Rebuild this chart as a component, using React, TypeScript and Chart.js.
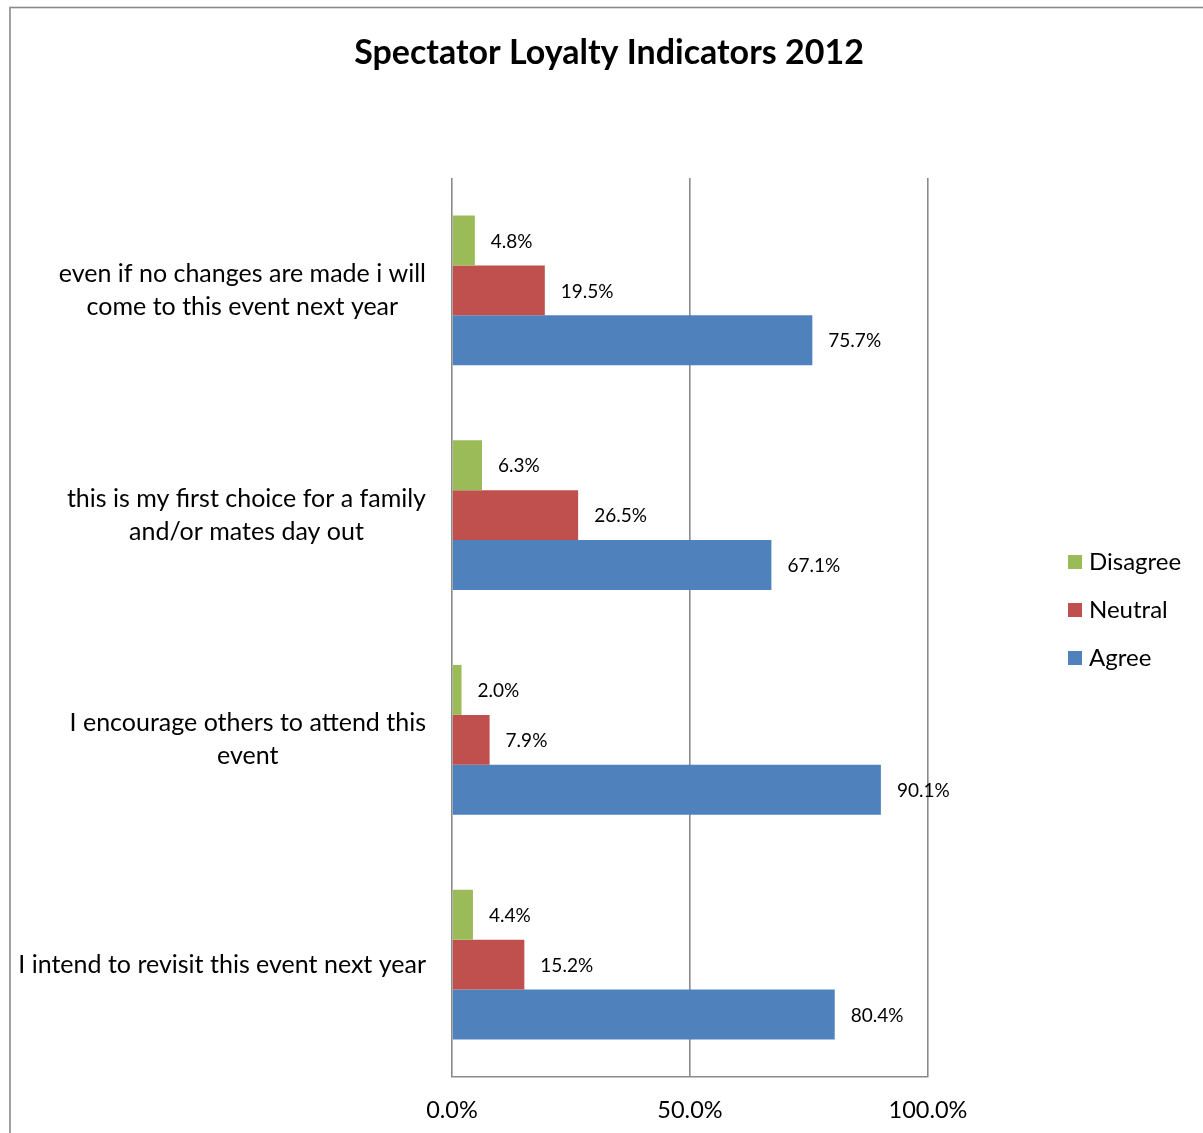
import React, { useEffect, useRef } from 'react';
import { Chart, registerables } from 'chart.js';

Chart.register(...registerables);

const chartTitle = 'Spectator Loyalty Indicators 2012';
const categories: string[][] = [
  ['even if no changes are made i will', 'come to this event next year'],
  ['this is my first choice for a family', 'and/or mates day out'],
  ['I encourage others to attend this', 'event'],
  ['I intend to revisit this event next year'],
];
const seriesNames = ['Disagree', 'Neutral', 'Agree'];
const disagreeValues = [4.8, 6.3, 2.0, 4.4];
const neutralValues = [19.5, 26.5, 7.9, 15.2];
const agreeValues = [75.7, 67.1, 90.1, 80.4];
const seriesColors = ['#9BBB59', '#C0504D', '#4F81BD'];
const xMin = 0;
const xMax = 100;
const xStep = 50;

const FONT = 'Lato, "Open Sans", sans-serif';

const overlayPlugin = {
  id: 'overlay',
  beforeDraw(chart: any) {
    const ctx = chart.ctx;
    ctx.save();
    ctx.fillStyle = '#ffffff';
    ctx.fillRect(0, 0, chart.width, chart.height);
    ctx.strokeStyle = '#8a8a8a';
    ctx.lineWidth = 1.6;
    ctx.strokeRect(10, 7.5, 1500, 1500);
    ctx.restore();
  },
  afterDraw(chart: any) {
    const ctx = chart.ctx;
    const area = chart.chartArea;
    ctx.save();
    // title
    ctx.fillStyle = '#000';
    ctx.font = `bold 34px ${FONT}`;
    ctx.textAlign = 'center';
    ctx.textBaseline = 'middle';
    ctx.fillText(chartTitle, 609, 53);

    // category labels
    const yScale = chart.scales.y;
    ctx.font = `25px ${FONT}`;
    const rightEdge = area.left - 26;
    const lineH = 33;
    categories.forEach((lines, i) => {
      const cy = yScale.getPixelForValue(i);
      const maxW = Math.max(...lines.map((l) => ctx.measureText(l).width));
      const cx = rightEdge - maxW / 2;
      const startY = cy - ((lines.length - 1) * lineH) / 2;
      lines.forEach((l, j) => {
        ctx.fillText(l, cx, startY + j * lineH);
      });
    });

    // data labels
    ctx.font = `19px ${FONT}`;
    ctx.textAlign = 'left';
    chart.data.datasets.forEach((ds: any, d: number) => {
      const meta = chart.getDatasetMeta(d);
      meta.data.forEach((el: any, i: number) => {
        const v = ds.data[i];
        ctx.fillText(v.toFixed(1) + '%', el.x + 16, el.y + 1);
      });
    });

    // legend
    ctx.font = `24px ${FONT}`;
    chart.data.datasets.forEach((ds: any, d: number) => {
      const y = 562 + d * 48;
      ctx.fillStyle = ds.backgroundColor;
      ctx.fillRect(1068, y - 7, 14, 14);
      ctx.fillStyle = '#000';
      ctx.fillText(ds.label, 1089, y);
    });
    ctx.restore();
  },
};

export default function App() {
  const ref = useRef<HTMLCanvasElement | null>(null);
  useEffect(() => {
    if (!ref.current) return;
    const seriesValues = [disagreeValues, neutralValues, agreeValues];
    const chart = new Chart(ref.current, {
      type: 'bar',
      data: {
        labels: categories.map((c) => c.join(' ')),
        datasets: seriesNames.map((name, k) => ({
          label: name,
          data: seriesValues[k],
          backgroundColor: seriesColors[k],
          borderWidth: 0,
          barPercentage: 1,
          categoryPercentage: 0.667,
        })),
      },
      options: {
        indexAxis: 'y',
        responsive: false,
        animation: false,
        devicePixelRatio: 1,
        layout: { padding: { left: 452, right: 275, top: 178, bottom: 0 } },
        plugins: {
          legend: { display: false },
          tooltip: { enabled: false },
          title: { display: false },
        },
        scales: {
          x: {
            min: xMin,
            max: xMax,
            ticks: {
              stepSize: xStep,
              padding: 19,
              color: '#000',
              font: { family: FONT, size: 23.5 },
              callback: (v: any) => Number(v).toFixed(1) + '%',
            },
            grid: { color: '#8a8a8a', lineWidth: 1.6, drawTicks: false },
            border: { display: true, color: '#8a8a8a', width: 1.6 },
            afterFit: (scale: any) => {
              scale.height = 56;
            },
          },
          y: {
            display: false,
            offset: true,
          },
        },
      },
      plugins: [overlayPlugin],
    } as any);
    return () => chart.destroy();
  }, []);
  return (
    <div style={{ position: 'absolute', left: 0, top: 0, width: 1203, height: 1133, overflow: 'hidden' }}>
      <canvas ref={ref} width={1203} height={1133} style={{ width: 1203, height: 1133, display: 'block' }} />
    </div>
  );
}
